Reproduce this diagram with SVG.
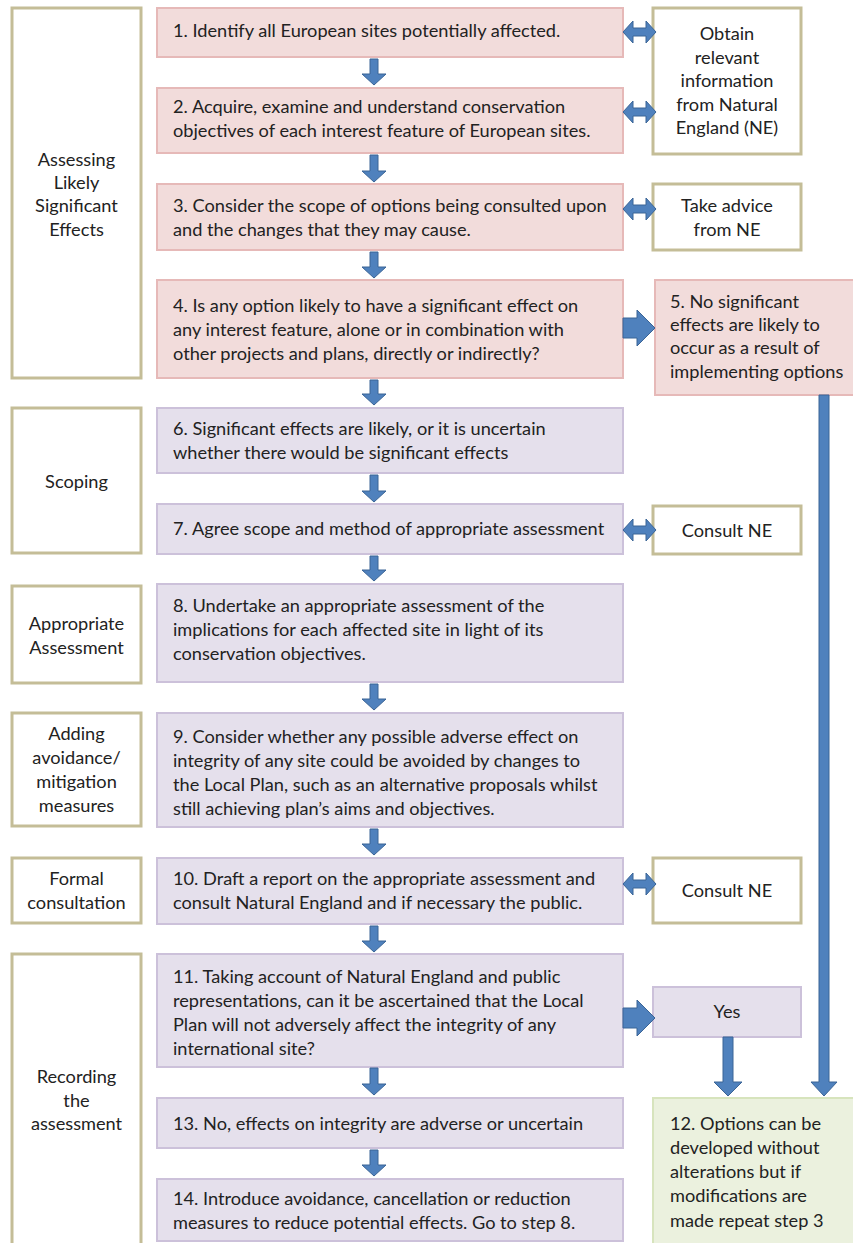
<svg xmlns="http://www.w3.org/2000/svg" width="853" height="1243" viewBox="0 0 853 1243">
<style>
text{font-family:Lato,"Open Sans","Liberation Sans",sans-serif;font-size:18.2px;fill:#222}
.c{text-anchor:middle}
.lab{fill:#fff;stroke:#c4bd97;stroke-width:3}
.pink{fill:#f2dcdb;stroke:#e6b9b8;stroke-width:2}
.pur{fill:#e5e0ec;stroke:#ccc1da;stroke-width:2}
.grn{fill:#ebf1de;stroke:#d7e4bd;stroke-width:2}
.arr{fill:#4f81bd;stroke:#3a6496;stroke-width:1}
</style>
<defs>
<path id="dbl" d="M623,0 L633,-11 V-4 H646 V-11 L656,0 L646,11 V4 H633 V11 Z"/>
</defs>
<rect width="853" height="1243" fill="#fff"/>

<g id="lab1"><rect class="lab" x="12" y="8" width="129" height="370"/>
<text class="c" x="76.5" y="166">Assessing</text><text class="c" x="76.5" y="189">Likely</text><text class="c" x="76.5" y="212">Significant</text><text class="c" x="76.5" y="236">Effects</text></g>
<g id="lab2"><rect class="lab" x="12" y="408" width="129" height="145"/>
<text class="c" x="76.5" y="488">Scoping</text></g>
<g id="lab3"><rect class="lab" x="12" y="586" width="129" height="97"/>
<text class="c" x="76.5" y="630">Appropriate</text><text class="c" x="76.5" y="654">Assessment</text></g>
<g id="lab4"><rect class="lab" x="12" y="713" width="129" height="113"/>
<text class="c" x="76.5" y="740">Adding</text><text class="c" x="76.5" y="764">avoidance/</text><text class="c" x="76.5" y="788">mitigation</text><text class="c" x="76.5" y="812">measures</text></g>
<g id="lab5"><rect class="lab" x="12" y="858" width="129" height="65"/>
<text class="c" x="76.5" y="885">Formal</text><text class="c" x="76.5" y="909">consultation</text></g>
<g id="lab6"><rect class="lab" x="12" y="954" width="129" height="295"/>
<text class="c" x="76.5" y="1083">Recording</text><text class="c" x="76.5" y="1107">the</text><text class="c" x="76.5" y="1130">assessment</text></g>

<g id="s1"><rect class="pink" x="157" y="8" width="466" height="49"/>
<text x="173" y="37">1. Identify all European sites potentially affected.</text></g>
<g id="s2"><rect class="pink" x="157" y="88" width="466" height="65"/>
<text x="173" y="113">2. Acquire, examine and understand conservation</text><text x="173" y="137">objectives of each interest feature of European sites.</text></g>
<g id="s3"><rect class="pink" x="157" y="184" width="466" height="66"/>
<text x="173" y="212">3. Consider the scope of options being consulted upon</text><text x="173" y="236">and the changes that they may cause.</text></g>
<g id="s4"><rect class="pink" x="157" y="280" width="466" height="98"/>
<text x="173" y="312">4. Is any option likely to have a significant effect on</text><text x="173" y="336">any interest feature, alone or in combination with</text><text x="173" y="360">other projects and plans, directly or indirectly?</text></g>
<g id="s5"><rect class="pink" x="655" y="280" width="202" height="115"/>
<text x="670" y="308">5. No significant</text><text x="670" y="331">effects are likely to</text><text x="670" y="354">occur as a result of</text><text x="670" y="378">implementing options</text></g>
<g id="s6"><rect class="pur" x="157" y="408" width="466" height="65"/>
<text x="173" y="435">6. Significant effects are likely, or it is uncertain</text><text x="173" y="459">whether there would be significant effects</text></g>
<g id="s7"><rect class="pur" x="157" y="504" width="466" height="50"/>
<text x="173" y="535">7. Agree scope and method of appropriate assessment</text></g>
<g id="s8"><rect class="pur" x="157" y="584" width="466" height="98"/>
<text x="173" y="612">8. Undertake an appropriate assessment of the</text><text x="173" y="636">implications for each affected site in light of its</text><text x="173" y="660">conservation objectives.</text></g>
<g id="s9"><rect class="pur" x="157" y="713" width="466" height="114"/>
<text x="173" y="743">9. Consider whether any possible adverse effect on</text><text x="173" y="767">integrity of any site could be avoided by changes to</text><text x="173" y="791">the Local Plan, such as an alternative proposals whilst</text><text x="173" y="815">still achieving plan’s aims and objectives.</text></g>
<g id="s10"><rect class="pur" x="157" y="858" width="466" height="66"/>
<text x="173" y="885">10. Draft a report on the appropriate assessment and</text><text x="173" y="909">consult Natural England and if necessary the public.</text></g>
<g id="s11"><rect class="pur" x="157" y="954" width="466" height="113"/>
<text x="173" y="983">11. Taking account of Natural England and public</text><text x="173" y="1007">representations, can it be ascertained that the Local</text><text x="173" y="1031">Plan will not adversely affect the integrity of any</text><text x="173" y="1055">international site?</text></g>
<g id="s12"><rect class="grn" x="653" y="1098" width="204" height="150"/>
<text x="670" y="1130">12. Options can be</text><text x="670" y="1154">developed without</text><text x="670" y="1178">alterations but if</text><text x="670" y="1202">modifications are</text><text x="670" y="1227">made repeat step 3</text></g>
<g id="s13"><rect class="pur" x="157" y="1098" width="466" height="50"/>
<text x="173" y="1130">13. No, effects on integrity are adverse or uncertain</text></g>
<g id="s14"><rect class="pur" x="157" y="1179" width="466" height="62"/>
<text x="173" y="1205">14. Introduce avoidance, cancellation or reduction</text><text x="173" y="1229">measures to reduce potential effects. Go to step 8.</text></g>

<g id="ne1"><rect class="lab" x="653" y="8" width="148" height="146"/>
<text class="c" x="727" y="40">Obtain</text><text class="c" x="727" y="64">relevant</text><text class="c" x="727" y="87">information</text><text class="c" x="727" y="111">from Natural</text><text class="c" x="727" y="134">England (NE)</text></g>
<g id="ne2"><rect class="lab" x="653" y="184" width="148" height="66"/>
<text class="c" x="727" y="212">Take advice</text><text class="c" x="727" y="236">from NE</text></g>
<g id="ne3"><rect class="lab" x="653" y="506" width="148" height="48"/>
<text class="c" x="727" y="537">Consult NE</text></g>
<g id="ne4"><rect class="lab" x="653" y="858" width="148" height="65"/>
<text class="c" x="727" y="897">Consult NE</text></g>
<g id="yes"><rect class="pur" x="653" y="987" width="148" height="50"/>
<text class="c" x="727" y="1018">Yes</text></g>

<g id="connectors">
<path class="arr" d="M370,59 H378 V74 H386 L374,85 L362,74 H370 Z"/>
<path class="arr" d="M370,155 H378 V171 H386 L374,182 L362,171 H370 Z"/>
<path class="arr" d="M370,252 H378 V267 H386 L374,278 L362,267 H370 Z"/>
<path class="arr" d="M370,380 H378 V394 H386 L374,405 L362,394 H370 Z"/>
<path class="arr" d="M370,475 H378 V491 H386 L374,502 L362,491 H370 Z"/>
<path class="arr" d="M370,556 H378 V570 H386 L374,581 L362,570 H370 Z"/>
<path class="arr" d="M370,684 H378 V699 H386 L374,710 L362,699 H370 Z"/>
<path class="arr" d="M370,829 H378 V844 H386 L374,855 L362,844 H370 Z"/>
<path class="arr" d="M370,926 H378 V941 H386 L374,952 L362,941 H370 Z"/>
<path class="arr" d="M370,1068 H378 V1084 H386 L374,1095 L362,1084 H370 Z"/>
<path class="arr" d="M370,1150 H378 V1165 H386 L374,1176 L362,1165 H370 Z"/>
<use href="#dbl" class="arr" y="32"/>
<use href="#dbl" class="arr" y="112"/>
<use href="#dbl" class="arr" y="209"/>
<use href="#dbl" class="arr" y="530"/>
<use href="#dbl" class="arr" y="884"/>
<path class="arr" d="M623,318 H637 V310 L655,328 L637,346 V338 H623 Z"/>
<path class="arr" d="M623,1008 H637 V1000 L655,1018 L637,1036 V1028 H623 Z"/>
<path class="arr" d="M819,395 H829 V1082 H837 L824,1096 L811,1082 H819 Z"/>
<path class="arr" d="M723,1037 H733 V1082 H742 L728,1096 L714,1082 H723 Z"/>
</g>
</svg>
